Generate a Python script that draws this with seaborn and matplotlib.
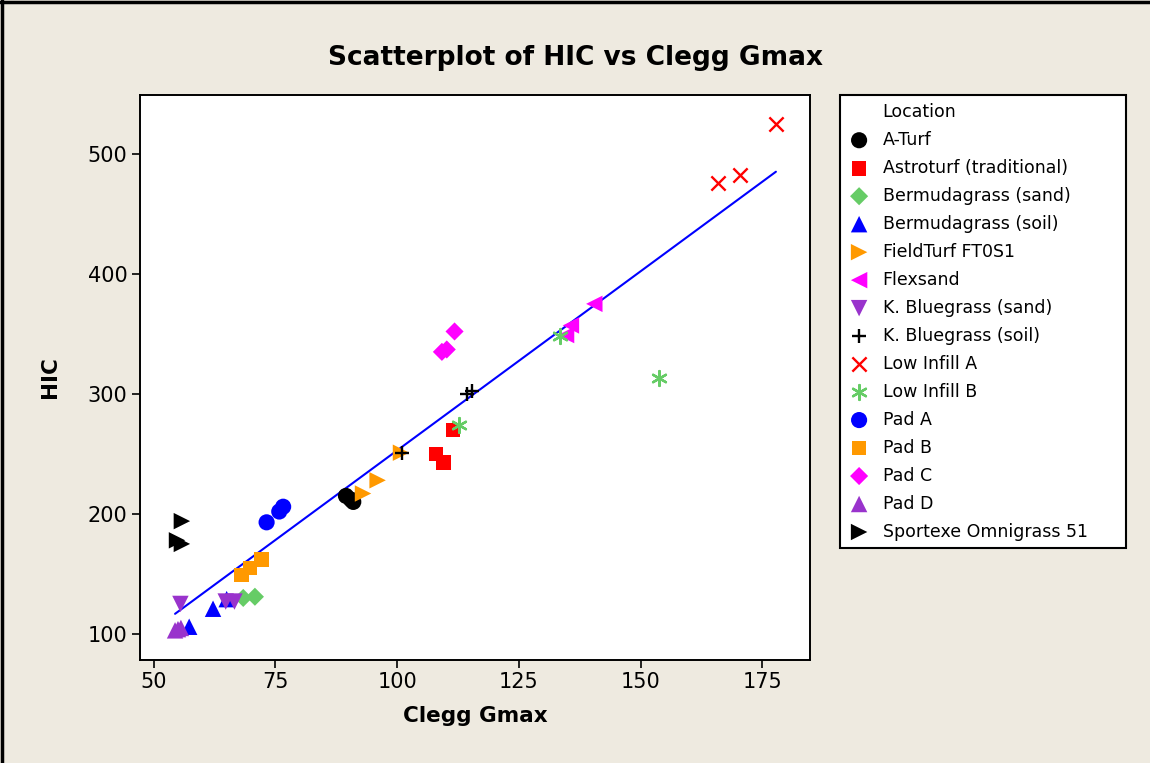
import matplotlib
matplotlib.use("Agg")
import matplotlib.pyplot as plt
from matplotlib.lines import Line2D
import numpy as np
import pandas as pd
import seaborn as sns

# ---- data ----
a_turf_x = [89.5, 90.5, 91.0]
a_turf_y = [215, 212, 210]
astro_x = [108.0, 109.5, 111.5]
astro_y = [250, 243, 270]
berm_sand_x = [68.4, 70.8]
berm_sand_y = [130, 131]
berm_soil_x = [57.3, 62.2, 65.0]
berm_soil_y = [106, 121, 129]
fieldturf_x = [93.0, 96.0, 100.8]
fieldturf_y = [217, 228, 251]
flexsand_x = [134.7, 135.7, 140.5]
flexsand_y = [349, 357, 375]
kb_sand_x = [55.5, 64.8, 66.6]
kb_sand_y = [125, 127, 127]
kb_soil_x = [101.0, 114.3, 115.3]
kb_soil_y = [251, 300, 302]
low_a_x = [166.0, 170.5, 177.8]
low_a_y = [476, 482, 525]
low_b_x = [112.8, 133.5, 153.8]
low_b_y = [274, 348, 313]
pad_a_x = [73.2, 75.8, 76.6]
pad_a_y = [193, 202, 206]
pad_b_x = [68.1, 69.8, 72.2]
pad_b_y = [149, 155, 162]
pad_c_x = [109.2, 110.2, 111.8]
pad_c_y = [335, 337, 352]
pad_d_x = [54.4, 55.0, 55.6]
pad_d_y = [103, 104, 105]
sportexe_x = [54.8, 55.8, 55.8]
sportexe_y = [178, 175, 194]

locations = ["A-Turf", "Astroturf (traditional)", "Bermudagrass (sand)",
             "Bermudagrass (soil)", "FieldTurf FT0S1", "Flexsand",
             "K. Bluegrass (sand)", "K. Bluegrass (soil)", "Low Infill A",
             "Low Infill B", "Pad A", "Pad B", "Pad C", "Pad D",
             "Sportexe Omnigrass 51"]
xs = [a_turf_x, astro_x, berm_sand_x, berm_soil_x, fieldturf_x, flexsand_x,
      kb_sand_x, kb_soil_x, low_a_x, low_b_x, pad_a_x, pad_b_x, pad_c_x,
      pad_d_x, sportexe_x]
ys = [a_turf_y, astro_y, berm_sand_y, berm_soil_y, fieldturf_y, flexsand_y,
      kb_sand_y, kb_soil_y, low_a_y, low_b_y, pad_a_y, pad_b_y, pad_c_y,
      pad_d_y, sportexe_y]

x_ticks = [50, 75, 100, 125, 150, 175]
y_ticks = [100, 200, 300, 400, 500]

rows = []
for loc, xv, yv in zip(locations, xs, ys):
    for a, b in zip(xv, yv):
        rows.append({"Location": loc, "Clegg Gmax": a, "HIC": b})
df = pd.DataFrame(rows)

# ---- styles ----
colors = {
    "A-Turf": "#000000", "Astroturf (traditional)": "#FF0000",
    "Bermudagrass (sand)": "#66CC66", "Bermudagrass (soil)": "#0000FF",
    "FieldTurf FT0S1": "#FF9900", "Flexsand": "#FF00FF",
    "K. Bluegrass (sand)": "#9933CC", "K. Bluegrass (soil)": "#000000",
    "Low Infill A": "#FF0000", "Low Infill B": "#66CC66",
    "Pad A": "#0000FF", "Pad B": "#FF9900", "Pad C": "#FF00FF",
    "Pad D": "#9933CC", "Sportexe Omnigrass 51": "#000000",
}
markers = {
    "A-Turf": "o", "Astroturf (traditional)": "s", "Bermudagrass (sand)": "D",
    "Bermudagrass (soil)": "^", "FieldTurf FT0S1": ">", "Flexsand": "<",
    "K. Bluegrass (sand)": "v", "K. Bluegrass (soil)": "+",
    "Low Infill A": "x", "Low Infill B": (6, 2, 0),
    "Pad A": "o", "Pad B": "s", "Pad C": "D", "Pad D": "^",
    "Sportexe Omnigrass 51": ">",
}
sizes = {"o": 135, "s": 112, "D": 85, "^": 140, "v": 140, ">": 140, "<": 140,
         "+": 115, "x": 105}

sns.set_theme(style="white")
plt.rcParams["font.family"] = ["DejaVu Sans"]
plt.rcParams["text.color"] = "black"
plt.rcParams["axes.labelcolor"] = "black"

fig = plt.figure(figsize=(11.5, 7.63), dpi=100, facecolor="#EEEAE0")
ax = fig.add_axes([140 / 1150, 1 - 660 / 763, 670 / 1150, 565 / 763])
ax.set_facecolor("white")

handles = []
for loc in locations:
    sub = df[df["Location"] == loc]
    m = markers[loc]
    key = m if isinstance(m, str) else "*"
    s = sizes.get(key, 115)
    mk = matplotlib.markers.MarkerStyle(m)
    kw = dict(data=sub, x="Clegg Gmax", y="HIC", marker=m, s=s,
              color=colors[loc], ax=ax, legend=False, zorder=3)
    if mk.is_filled():
        kw["edgecolor"] = "none"
    else:
        kw["linewidth"] = 1.7
    sns.scatterplot(**kw)
    handles.append(ax.collections[-1])

sns.regplot(data=df, x="Clegg Gmax", y="HIC", scatter=False, ci=None,
            color="#0000FF", line_kws={"linewidth": 1.5, "zorder": 2}, ax=ax)

ax.set_xlim(47.2, 184.8)
ax.set_ylim(78.3, 549)
ax.set_xticks(x_ticks)
ax.set_yticks(y_ticks)
ax.tick_params(axis="both", which="major", direction="out", length=6,
               width=1.2, color="black", labelsize=15, labelcolor="black",
               left=True, bottom=True, pad=3)
for sp in ax.spines.values():
    sp.set_color("black")
    sp.set_linewidth(1.4)

ax.set_xlabel("Clegg Gmax", fontsize=15.5, fontweight="bold", labelpad=10,
              color="black")
ax.set_ylabel("HIC", fontsize=15.5, fontweight="bold", labelpad=20,
              color="black")
fig.text(0.5, 1 - 58 / 763, "Scatterplot of HIC vs Clegg Gmax", ha="center",
         va="center", fontsize=19, fontweight="bold", color="black")

# legend
title_handle = Line2D([], [], linestyle="none")
leg_handles = [title_handle] + handles
leg_labels = ["Location"] + locations
x0 = 840 / 1150
w = (1126 - 840) / 1150
top = 1 - 95 / 763
leg = ax.legend(leg_handles, leg_labels, loc="upper left",
                bbox_to_anchor=(x0, top - 0.6, w, 0.6),
                bbox_transform=fig.transFigure, mode="expand",
                frameon=True, fancybox=False, framealpha=1,
                edgecolor="black", facecolor="white", fontsize=12.5,
                labelspacing=0.575, handlelength=1.3, handletextpad=0.7,
                borderpad=0.45, borderaxespad=0, scatterpoints=1)
leg.get_frame().set_linewidth(1.5)
for t in leg.get_texts():
    t.set_color("black")

# figure edge lines (screenshot border)
fig.add_artist(Line2D([0.0015, 0.0015], [0, 1], transform=fig.transFigure,
                      color="black", linewidth=2.5))
fig.add_artist(Line2D([0, 1], [0.998, 0.998], transform=fig.transFigure,
                      color="black", linewidth=2.5))

fig.savefig("out.png", dpi=100, facecolor=fig.get_facecolor())
